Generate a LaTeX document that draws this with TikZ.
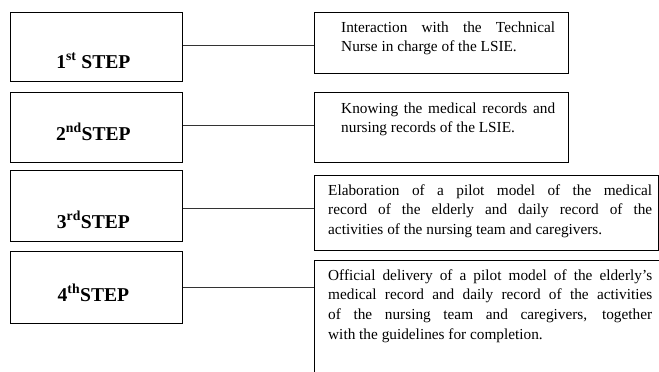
\documentclass[tikz,border=0pt]{standalone}
\usepackage{fontspec}
\setmainfont{Liberation Serif}
\usepackage{tikz}
\usetikzlibrary{positioning}
\tikzset{
    x=1pt,
    y=-1pt,
    stepbox/.style = {
        draw,
        shape=rectangle,
        anchor=north west,
        minimum width=172pt,
        inner xsep=0pt,
        inner ysep=0pt,
        line width=0.8pt,
        font=\fontsize{19.6}{23}\selectfont\bfseries
    },
    descbox/.style = {
        draw,
        shape=rectangle,
        anchor=north west,
        line width=0.8pt
    },
    desctext/.style = {
        anchor=base west,
        inner sep=0pt,
        align=justify,
        font=\fontsize{15.3}{19.8}\selectfont
    },
    link/.style = {
        draw,
        line width=0.8pt,
        color=black!80
    },
}

\begin{document}
\begin{tikzpicture}
                \useasboundingbox (0,0) rectangle (659,372);
                \clip (0,0) rectangle (659,372);

                \node[stepbox, text height=56pt, text depth=13pt] (step1) at (10,12) {1\textsuperscript{st} STEP\hspace*{6pt}};
                \node[stepbox, text height=48pt, text depth=22pt] (step2) at (10,92) {2\textsuperscript{nd}STEP\hspace*{6pt}};
                \node[stepbox, text height=58pt, text depth=13pt] (step3) at (10,170) {3\textsuperscript{rd}STEP\hspace*{6pt}};
                \node[stepbox, text height=50pt, text depth=22pt] (step4) at (10,251) {4\textsuperscript{th}STEP\hspace*{6pt}};

                \node[descbox, minimum width=254pt, minimum height=61pt] (desc1) at (314,12) {};
                \node[descbox, minimum width=254pt, minimum height=70pt] (desc2) at (314,92) {};
                \node[descbox, minimum width=344pt, minimum height=75pt] (desc3) at (314,174.5) {};
                \node[descbox, minimum width=400pt, minimum height=160pt] (desc4) at (314,260) {};

                \node[desctext, text width=214pt] (text1) at (341,32)
                {Interaction with the Technical\linebreak Nurse in charge of the LSIE.};
                \node[desctext, text width=214pt] (text2) at (341,113)
                {Knowing the medical records and\linebreak nursing records of the LSIE.};
                \node[desctext, text width=324pt] (text3) at (328,195)
                {Elaboration of a pilot model of the medical\linebreak record of the elderly and daily record of the\linebreak activities of the nursing team and caregivers.};
                \node[desctext, text width=324pt] (text4) at (328,280)
                {Official delivery of a pilot model of the elderly's\linebreak medical record and daily record of the activities\linebreak of the nursing team and caregivers, together\linebreak with the guidelines for completion.};

                \path[link] ([yshift=1.5pt]step1.east) -- ([yshift=1.5pt]step1.east -| desc1.west);
                \path[link] ([yshift=2.5pt]step2.east) -- ([yshift=2.5pt]step2.east -| desc2.west);
                \path[link] ([yshift=-2pt]step3.east) -- ([yshift=-2pt]step3.east -| desc3.west);
                \path[link] (step4.east) -- (step4.east -| desc4.west);
\end{tikzpicture}
\end{document}
